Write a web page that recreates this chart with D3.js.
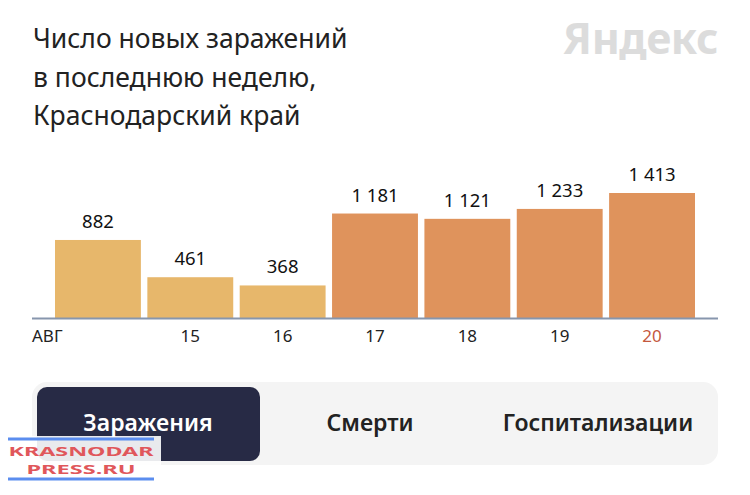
<!DOCTYPE html>
<html>
<head>
<meta charset="utf-8">
<script src="https://cdn.jsdelivr.net/npm/d3@7"></script>
<style>
  body { margin: 0; background: #fff; }
  svg { display: block; font-family: "Noto Sans", sans-serif; }
</style>
</head>
<body>
<svg id="chart" width="750" height="495"></svg>
<script>
// data
const days     = ['14', '15', '16', '17', '18', '19', '20'];
const dayLabel = ['АВГ', '15', '16', '17', '18', '19', '20'];
const cases    = [882, 461, 368, 1181, 1121, 1233, 1413];
const isNew    = [false, false, false, true, true, true, true];
const titleLines = ['Число новых заражений', 'в последнюю неделю,', 'Краснодарский край'];
const tabs = ['Заражения', 'Смерти', 'Госпитализации'];

const svg = d3.select('#chart');

const lightColor = '#e7b76b';
const darkColor  = '#df935c';

// title
svg.append('g').selectAll('text')
  .data(titleLines)
  .join('text')
    .attr('x', 33)
    .attr('y', (d, i) => 48 + i * 38.5)
    .attr('font-size', 26.5)
    .attr('fill', '#222')
    .text(d => d);

// logo
svg.append('text')
  .attr('x', 718)
  .attr('y', 54)
  .attr('text-anchor', 'end')
  .attr('font-size', 43)
  .attr('font-weight', 'bold')
  .attr('fill', '#dcdcdc')
  .attr('letter-spacing', -0.5)
  .text('Яндекс');

// scales
const x = d3.scaleBand()
  .domain(days)
  .range([55, 695])
  .paddingInner(0.07)
  .paddingOuter(0);

const baseY = 318;
const y = d3.scaleLinear()
  .domain([0, 1413])
  .range([baseY, 193]);

const fmt = v => d3.format(',')(v).replace(',', ' ');

const g = svg.append('g');

g.selectAll('.bar')
  .data(cases)
  .join('rect')
    .attr('class', 'bar')
    .attr('x', (d, i) => x(days[i]))
    .attr('y', d => y(d))
    .attr('width', x.bandwidth())
    .attr('height', d => baseY - y(d))
    .attr('fill', (d, i) => isNew[i] ? darkColor : lightColor);

g.selectAll('.val')
  .data(cases)
  .join('text')
    .attr('class', 'val')
    .attr('x', (d, i) => x(days[i]) + x.bandwidth() / 2)
    .attr('y', d => y(d) - 12)
    .attr('text-anchor', 'middle')
    .attr('font-size', 18.5)
    .attr('fill', '#111')
    .text(d => fmt(d));

// axis line
g.append('line')
  .attr('x1', 32).attr('x2', 718)
  .attr('y1', baseY + 0.5).attr('y2', baseY + 0.5)
  .attr('stroke', '#8796ad')
  .attr('stroke-width', 2);

// x labels (first one is the month, pinned to the left edge)
g.selectAll('.xl')
  .data(dayLabel)
  .join('text')
    .attr('class', 'xl')
    .attr('x', (d, i) => i === 0 ? 32 : x(days[i]) + x.bandwidth() / 2)
    .attr('y', 342)
    .attr('text-anchor', (d, i) => i === 0 ? 'start' : 'middle')
    .attr('font-size', 17)
    .attr('fill', (d, i) => i === days.length - 1 ? '#c4583e' : '#222')
    .text(d => d);

// tab switcher
const tabsG = svg.append('g');
tabsG.append('rect')
  .attr('x', 32).attr('y', 382)
  .attr('width', 686).attr('height', 83)
  .attr('rx', 15)
  .attr('fill', '#f4f4f4');
tabsG.append('rect')
  .attr('x', 37).attr('y', 387)
  .attr('width', 223).attr('height', 74)
  .attr('rx', 10)
  .attr('fill', '#272a45');

const tabX = [148, 370, 598];
tabsG.selectAll('.tab')
  .data(tabs)
  .join('text')
    .attr('class', 'tab')
    .attr('x', (d, i) => tabX[i])
    .attr('y', 431)
    .attr('text-anchor', 'middle')
    .attr('font-size', 23)
    .attr('font-weight', 600)
    .attr('fill', (d, i) => i === 0 ? '#fff' : '#222')
    .text(d => d);

// watermark
const wm = svg.append('g');
wm.append('rect')
  .attr('x', 6).attr('y', 436)
  .attr('width', 155).attr('height', 50)
  .attr('fill', '#fff')
  .attr('opacity', 0.9);
wm.selectAll('line')
  .data([439, 479])
  .join('line')
    .attr('x1', 8).attr('x2', 154)
    .attr('y1', d => d).attr('y2', d => d)
    .attr('stroke', '#5b8def')
    .attr('stroke-width', 3);
const wmText = ['KRASNODAR', 'PRESS.RU'];
const wmLen  = [145, 109];
wm.selectAll('text')
  .data(wmText)
  .join('text')
    .attr('x', (d, i) => 81 - wmLen[i] / 2)
    .attr('y', (d, i) => 456 + i * 18)
    .attr('textLength', (d, i) => wmLen[i])
    .attr('lengthAdjust', 'spacingAndGlyphs')
    .attr('font-size', 13)
    .attr('font-weight', 'bold')
    .attr('fill', '#e0575b')
    .text(d => d);
</script>
</body>
</html>
